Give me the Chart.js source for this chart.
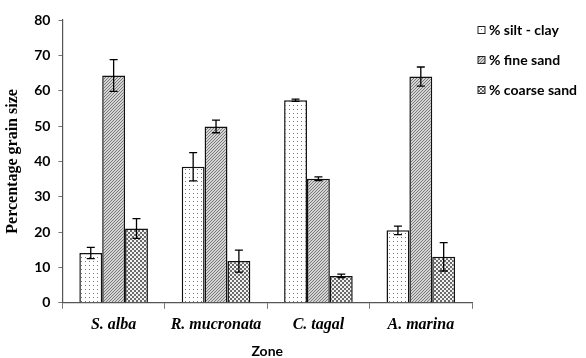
<!DOCTYPE html>
<html>
<head>
<meta charset="utf-8">
<script src="https://cdn.jsdelivr.net/npm/chart.js@4"></script>
<style>
body { margin: 0; background: #fff; }
#wrap { width: 586px; height: 358px; position: relative; }
</style>
</head>
<body>
<div id="wrap"><canvas id="chart"></canvas></div>
<script>
// data
var zones = ["S. alba", "R. mucronata", "C. tagal", "A. marina"];
var seriesNames = ["% silt - clay", "% fine sand", "% coarse sand"];
var siltClay = [14.1, 38.5, 57.3, 20.5];
var fineSand = [64.3, 49.9, 35.1, 64.0];
var coarseSand = [21.0, 11.8, 7.6, 13.0];
var siltClayErr = [1.6, 4.0, 0.3, 1.2];
var fineSandErr = [4.5, 1.8, 0.5, 2.7];
var coarseSandErr = [2.8, 3.1, 0.5, 4.0];
var yTicks = [0, 10, 20, 30, 40, 50, 60, 70, 80];

// fill patterns
function dotPattern()
{
	var c = document.createElement('canvas');
	c.width = 4; c.height = 4;
	var g = c.getContext('2d');
	g.fillStyle = '#ffffff';
	g.fillRect(0, 0, 4, 4);
	g.fillStyle = '#777777';
	g.fillRect(1, 1, 1, 1);
	return g.createPattern(c, 'repeat');
}
function hatchPattern()
{
	var c = document.createElement('canvas');
	c.width = 3; c.height = 3;
	var g = c.getContext('2d');
	g.fillStyle = '#d4d4d4';
	g.fillRect(0, 0, 3, 3);
	g.fillStyle = '#7a7a7a';
	g.fillRect(2, 0, 1, 1);
	g.fillRect(1, 1, 1, 1);
	g.fillRect(0, 2, 1, 1);
	return g.createPattern(c, 'repeat');
}
function checkPattern()
{
	var c = document.createElement('canvas');
	c.width = 4; c.height = 4;
	var g = c.getContext('2d');
	g.fillStyle = '#f2f2f2';
	g.fillRect(0, 0, 4, 4);
	g.fillStyle = '#6a6a6a';
	g.fillRect(0, 0, 2, 2);
	g.fillRect(2, 2, 2, 2);
	return g.createPattern(c, 'repeat');
}

var errors = [siltClayErr, fineSandErr, coarseSandErr];

// error bars
var errorBars = {
	id: 'errorBars',
	afterDatasetsDraw: function (chart) {
		var ctx = chart.ctx;
		var yScale = chart.scales.y;
		ctx.save();
		ctx.strokeStyle = '#000';
		ctx.lineWidth = 1.3;
		chart.data.datasets.forEach(function (ds, i) {
			var meta = chart.getDatasetMeta(i);
			meta.data.forEach(function (bar, j) {
				var v = ds.data[j];
				var e = errors[i][j];
				var yTop = yScale.getPixelForValue(v + e);
				var yBot = yScale.getPixelForValue(v - e);
				var x = bar.x;
				ctx.beginPath();
				ctx.moveTo(x, yTop); ctx.lineTo(x, yBot);
				ctx.moveTo(x - 4, yTop); ctx.lineTo(x + 4, yTop);
				ctx.moveTo(x - 4, yBot); ctx.lineTo(x + 4, yBot);
				ctx.stroke();
			});
		});
		ctx.restore();
	}
};

// legend to the right of the plot, one row every 30px
var sideLegend = {
	id: 'sideLegend',
	afterDraw: function (chart) {
		var ctx = chart.ctx;
		var area = chart.chartArea;
		ctx.save();
		ctx.font = "bold 14px Lato, sans-serif";
		ctx.textBaseline = 'middle';
		chart.data.datasets.forEach(function (ds, i) {
			var x = area.right + 6;
			var y = area.top + 10 + i * 30;
			ctx.fillStyle = ds.backgroundColor;
			ctx.fillRect(x, y - 3.5, 7, 7);
			ctx.strokeStyle = '#222';
			ctx.lineWidth = 1;
			ctx.strokeRect(x, y - 3.5, 7, 7);
			ctx.fillStyle = '#000';
			ctx.fillText(ds.label, x + 11, y);
		});
		ctx.restore();
	}
};

var fills = [dotPattern(), hatchPattern(), checkPattern()];
var values = [siltClay, fineSand, coarseSand];

new Chart(document.getElementById('chart'), {
	type: 'bar',
	data: {
		labels: zones,
		datasets: seriesNames.map(function (name, i) {
			return {
				label: name,
				data: values[i],
				backgroundColor: fills[i],
				borderColor: '#111',
				borderWidth: 1.5,
				borderSkipped: 'bottom',
				categoryPercentage: 0.67,
				barPercentage: 1.0
			};
		})
	},
	options: {
		responsive: true,
		maintainAspectRatio: false,
		animation: false,
		layout: { padding: { top: 20, left: 3, right: 114, bottom: 0 } },
		plugins: {
			tooltip: { enabled: false },
			legend: { display: false }
		},
		scales: {
			x: {
				grid: { drawOnChartArea: false, drawTicks: true, tickLength: 6, color: '#777', offset: true },
				border: { color: '#555', width: 1.2 },
				ticks: {
					color: '#000',
					padding: 6,
					font: { family: "'Liberation Serif', serif", size: 16, style: 'italic', weight: 'bold' }
				},
				title: {
					display: true,
					text: 'Zone',
					color: '#000',
					padding: { top: 4, bottom: 0 },
					font: { family: "Lato, sans-serif", size: 14, weight: 'bold', lineHeight: 1.0 }
				}
			},
			y: {
				min: 0,
				max: 80,
				afterBuildTicks: function (axis) {
					axis.ticks = yTicks.map(function (v) { return { value: v }; });
				},
				grid: { drawOnChartArea: false, drawTicks: true, tickLength: 4, color: '#777' },
				border: { color: '#555', width: 1.2 },
				ticks: {
					color: '#000',
					padding: 8,
					font: { family: "Lato, sans-serif", size: 14, weight: 'bold' }
				},
				title: {
					display: true,
					text: 'Percentage grain size',
					color: '#000',
					padding: { top: 0, bottom: 4 },
					font: { family: "'Liberation Serif', serif", size: 16, weight: 'bold' }
				}
			}
		}
	},
	plugins: [errorBars, sideLegend]
});
</script>
</body>
</html>
